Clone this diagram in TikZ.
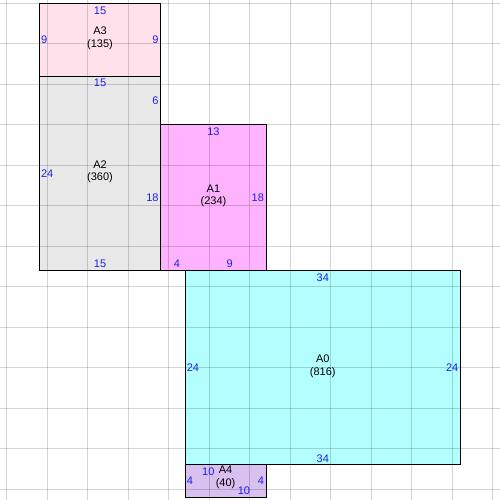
\documentclass[tikz,border=0pt]{standalone}
\usepackage{fontspec}
\setmainfont{Liberation Sans}
\definecolor{cAthree}{HTML}{FFE1EB}
\definecolor{cAtwo}{HTML}{E8E8E8}
\definecolor{cAone}{HTML}{FFB3FF}
\definecolor{cAzero}{HTML}{B3FFFF}
\definecolor{cAfour}{HTML}{D8C0F0}
\definecolor{lenblue}{RGB}{30,30,235}
\tikzset{
  room/.style={inner sep=0pt, outer sep=0pt, anchor=north west, draw=none},
  gridline/.style={black, opacity=0.17, line width=0.9pt},
  border/.style={black, line width=1pt},
  len/.style={text=lenblue, inner sep=0pt},
  lt/.style={len, anchor=north, inner sep=3pt},
  lb/.style={len, anchor=south, inner sep=2.5pt},
  ll/.style={len, anchor=west, inner sep=1.5pt},
  lr/.style={len, anchor=east, inner sep=2pt},
  roomname/.style={align=center, inner sep=0pt, yshift=1.5pt}
}
\begin{document}
\begin{tikzpicture}[x=8.1pt, y=-8.1pt, font=\fontsize{11}{12.3}\selectfont]
\useasboundingbox (-4.852,-0.407) rectangle (56.877,61.32);
% room fills
\node[room, fill=cAthree, minimum width=15*8.1pt, minimum height=9*8.1pt]  (A3) at (0,0) {};
\node[room, fill=cAtwo,   minimum width=15*8.1pt, minimum height=24*8.1pt] (A2) at (0,9) {};
\node[room, fill=cAone,   minimum width=13*8.1pt, minimum height=18*8.1pt] (A1) at (15,15) {};
\node[room, fill=cAzero,  minimum width=34*8.1pt, minimum height=24*8.1pt] (A0) at (18,33) {};
\node[room, fill=cAfour,  minimum width=10*8.1pt, minimum height=4*8.1pt]  (A4) at (18,57) {};
% grid
\foreach \i in {0,...,12} \draw[gridline] ({-4+5*\i},-0.407) -- ({-4+5*\i},61.32);
\foreach \j in {0,...,12} \draw[gridline] (-4.852,{5*\j}) -- (56.877,{5*\j});
% borders
\foreach \r in {A3,A2,A1,A0,A4} \draw[border] (\r.north west) rectangle (\r.south east);
% A3
\node[lt] (A3t) at (7.5,0) {15};
\node[ll] (A3l) at (0,4.5) {9};
\node[lr] (A3r) at (15,4.5) {9};
\node[roomname] (A3n) at (A3.center) {A3\\(135)};
% A2
\node[lt] (A2t) at (7.5,9) {15};
\node[lr] (A2ra) at (15,12) {6};
\node[ll] (A2l) at (0,21) {24};
\node[lr] (A2rb) at (15,24) {18};
\node[lb] (A2b) at (7.5,33) {15};
\node[roomname] (A2n) at (A2.center) {A2\\(360)};
% A1
\node[lt] (A1t) at (21.5,15) {13};
\node[lr] (A1r) at (28,24) {18};
\node[lb] (A1ba) at (17,33) {4};
\node[lb] (A1bb) at (23.5,33) {9};
\node[roomname] (A1n) at (A1.center) {A1\\(234)};
% A0
\node[lt] (A0t) at (35,33) {34};
\node[ll] (A0l) at (18,45) {24};
\node[lr] (A0r) at (52,45) {24};
\node[lb] (A0b) at (35,57) {34};
\node[roomname] (A0n) at (A0.center) {A0\\(816)};
% A4
\node[lt] (A4t) at (20.86,57) {10};
\node[lb] (A4b) at (25.27,61) {10};
\node[ll] (A4l) at (18,59) {4};
\node[lr] (A4r) at (28,59) {4};
\node[roomname] (A4n) at (23,58.7) {A4\\(40)};
\end{tikzpicture}
\end{document}
